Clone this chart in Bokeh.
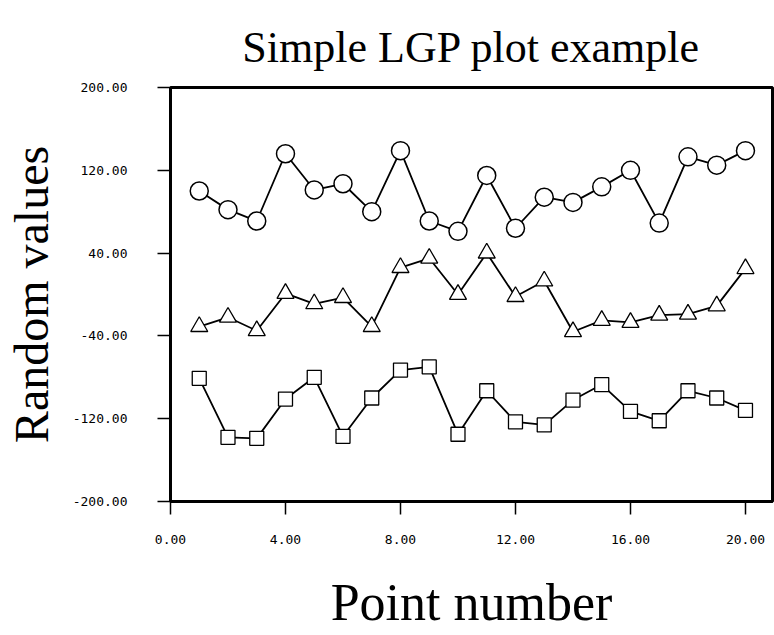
from bokeh.plotting import figure
from bokeh.models import FixedTicker, NumeralTickFormatter, Range1d
from bokeh.embed import file_html
from bokeh.resources import INLINE

# Point numbers and the three series of random values
point_number = list(range(1, 21))
circles = [100, 82, 71, 136, 101, 107, 80, 139, 71, 61,
           115, 64, 94, 89, 104, 120, 69, 133, 125, 139]
triangles = [-31, -22, -35, 1, -9, -3, -31, 26, 35, 0,
             40, -2, 13, -36, -25, -27, -20, -19, -11, 25]
squares = [-81, -138, -139, -101, -80, -137, -100, -73, -70, -135,
           -93, -123, -126, -102, -87, -113, -122, -93, -100, -112]

x_ticks = [0, 4, 8, 12, 16, 20]
y_ticks = [-200, -120, -40, 40, 120, 200]

p = figure(width=774, height=635, output_backend="svg", toolbar_location=None,
           title="Simple LGP plot example",
           x_range=Range1d(0, 20.94), y_range=Range1d(-200, 200),
           min_border_left=170, min_border_right=2,
           min_border_top=87, min_border_bottom=134)

p.background_fill_color = "white"
p.border_fill_color = "white"
p.outline_line_color = "black"
p.outline_line_width = 3
p.xgrid.visible = False
p.ygrid.visible = False

p.title.align = "center"
p.title.text_font = "Liberation Serif"
p.title.text_font_size = "44px"
p.title.text_font_style = "normal"
p.title.text_color = "black"
p.title.standoff = 31

for ax in (p.xaxis, p.yaxis):
    ax.axis_line_width = 3
    ax.axis_line_color = "black"
    ax.major_tick_in = 0
    ax.major_tick_out = 13
    ax.major_tick_line_width = 1.5
    ax.minor_tick_line_color = None
    ax.major_label_text_font = "DejaVu Sans Mono"
    ax.major_label_text_font_size = "13px"
    ax.major_label_text_color = "black"
    ax.formatter = NumeralTickFormatter(format="0.00")
    ax.axis_label_text_font = "Liberation Serif"
    ax.axis_label_text_font_style = "normal"
    ax.axis_label_text_color = "black"

p.xaxis.ticker = FixedTicker(ticks=x_ticks)
p.yaxis.ticker = FixedTicker(ticks=y_ticks)
p.xaxis.axis_label = "Point number"
p.yaxis.axis_label = "Random values"
p.xaxis.axis_label_text_font_size = "52px"
p.yaxis.axis_label_text_font_size = "48px"
p.xaxis.major_label_standoff = 20
p.yaxis.major_label_standoff = 30
p.xaxis.axis_label_standoff = 27
p.yaxis.axis_label_standoff = 12

# connecting lines first, hollow markers on top
for ys in (circles, triangles, squares):
    p.line(point_number, ys, line_color="black", line_width=1.8)

p.scatter(point_number, circles, marker="circle", size=18,
          fill_color="white", line_color="black", line_width=1.5)
p.scatter(point_number, triangles, marker="triangle", size=17,
          fill_color="white", line_color="black", line_width=1.3)
p.scatter(point_number, squares, marker="square", size=14,
          fill_color="white", line_color="black", line_width=1.3)

open("out.html", "w").write(file_html(p, INLINE))
